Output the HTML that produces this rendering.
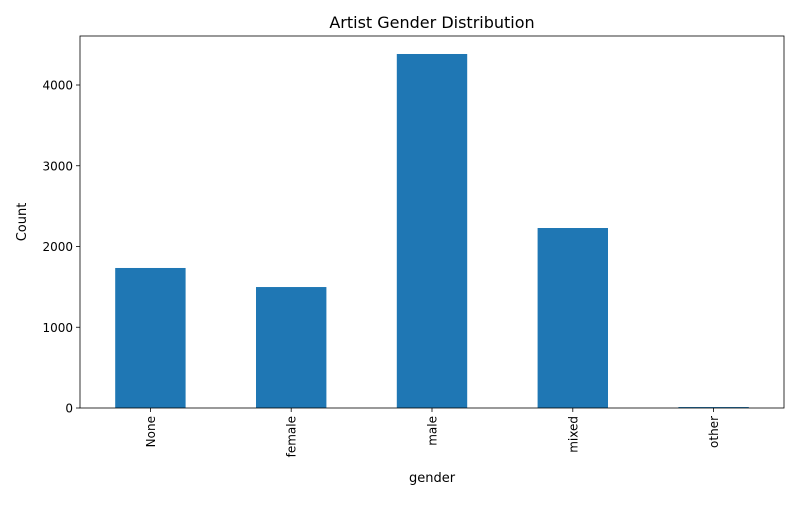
<!DOCTYPE html>
<html><head><meta charset="utf-8"><style>
body{margin:0;background:#fff;font-family:"Liberation Sans","DejaVu Sans",sans-serif;}
svg text{font-family:"DejaVu Sans","Liberation Sans",sans-serif;}
</style></head><body>
<svg id="chart" width="800" height="500">
<rect width="800" height="500" fill="#fff"/>
<text x="432" y="28" text-anchor="middle" font-size="16" fill="#000">Artist Gender Distribution</text>
<g id="plot"></g>
<text x="432" y="482" text-anchor="middle" font-size="13">gender</text>
<text transform="translate(26,222) rotate(-90)" text-anchor="middle" font-size="13">Count</text>
</svg>
<script>
const categories = ["None","female","male","mixed","other"];
const counts = [1734, 1498, 4384, 2229, 12];
const yTicks = [0,1000,2000,3000,4000];
const L=80,R=784,T=36,B=408;
const ns="http://www.w3.org/2000/svg";
const g=document.getElementById('plot');
function y(v){return B-v*(B-85)/4000;}
const band=(R-L)/categories.length;
function xc(i){return L+band*(i+0.5);}
function mk(t,a){const e=document.createElementNS(ns,t);for(const k in a)e.setAttribute(k,a[k]);g.appendChild(e);return e;}
categories.forEach((c,i)=>{
  const r=mk('rect',{x:xc(i)-band*0.25,y:y(counts[i]),width:band*0.5,height:B-y(counts[i]),fill:'#1f77b4'});
  
  
  const tk=mk('line',{x1:xc(i),x2:xc(i),y1:B,y2:B+4,stroke:'#000','stroke-width':0.8});
  
  
  const t=mk('text',{transform:`translate(${xc(i)+4.5},${B+8}) rotate(-90)`,'text-anchor':'end','font-size':12});
  t.textContent=c;
  
  
});
yTicks.forEach(v=>{
  const tk=mk('line',{x1:L-4,x2:L,y1:y(v),y2:y(v),stroke:'#000','stroke-width':0.8});
  
  
  const t=mk('text',{x:L-7,y:y(v)+4.5,'text-anchor':'end','font-size':12});
  t.textContent=v;
  
  
});
const f=mk('rect',{x:L,y:T,width:R-L,height:B-T,fill:'none',stroke:'#000','stroke-width':0.8});


</script>
</body></html>
